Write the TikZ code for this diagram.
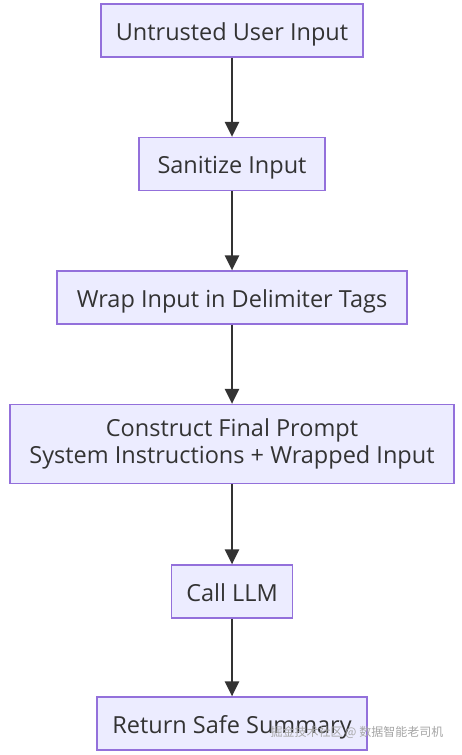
\documentclass[tikz,border=0pt]{standalone}
\usepackage{fontspec}
\setmainfont{Open Sans}
\newfontfamily\cjkfont{Noto Sans CJK SC}
\usetikzlibrary{arrows.meta, positioning}
\definecolor{stepfill}{HTML}{ECECFF}
\definecolor{stepline}{HTML}{9370DB}
\definecolor{flowgrey}{HTML}{333333}
\tikzset{
  stepbox/.style={draw=stepline, fill=stepfill, line width=1.2pt, text=flowgrey,
    font=\fontsize{23.5}{27}\selectfont, align=center, inner sep=0pt},
  oneline/.style={text height=19pt, text depth=0pt},
  flowarrow/.style={-{Triangle[length=15pt, width=14pt]}, draw=flowgrey, line width=2.6pt}
}

\begin{document}
\begin{tikzpicture}[x=1pt, y=-1pt]
  % page frame, same size as the reference
  \fill[white] (0,0) rectangle (462,755);
  \useasboundingbox (0,0) rectangle (462,755);

  % ===== boxes, top to bottom =====
  \node[stepbox, oneline, minimum width=262pt, minimum height=53pt] (untrusted) at (232,30.5) {Untrusted User Input};
  \node[stepbox, oneline, minimum width=186pt, minimum height=53pt] (sanitize) at (232,164) {Sanitize Input};
  \node[stepbox, oneline, minimum width=350pt, minimum height=53pt] (wrap) at (232,297.5) {Wrap Input in Delimiter Tags};
  \node[stepbox, minimum width=444pt, minimum height=79pt] (construct) at (232,444)
       {Construct Final Prompt\\System Instructions + Wrapped Input};
  \node[stepbox, oneline, minimum width=121pt, minimum height=53pt] (callllm) at (232,591.5) {Call LLM};
  \node[stepbox, oneline, minimum width=270pt, minimum height=53pt] (summary) at (232,723.5) {Return Safe Summary};

  % ===== arrows =====
  \draw[flowarrow] (untrusted) -- (sanitize);
  \draw[flowarrow] (sanitize) -- (wrap);
  \draw[flowarrow] (wrap) -- (construct);
  \draw[flowarrow] (construct) -- (callllm);
  \draw[flowarrow] (callllm) -- (summary);

  % watermark over the last box
  \node[font=\cjkfont\fontsize{12}{14}\selectfont, text=gray!70, anchor=west] (mark) at (267,732)
       {掘金技术社区 @ 数据智能老司机};
\end{tikzpicture}
\end{document}
